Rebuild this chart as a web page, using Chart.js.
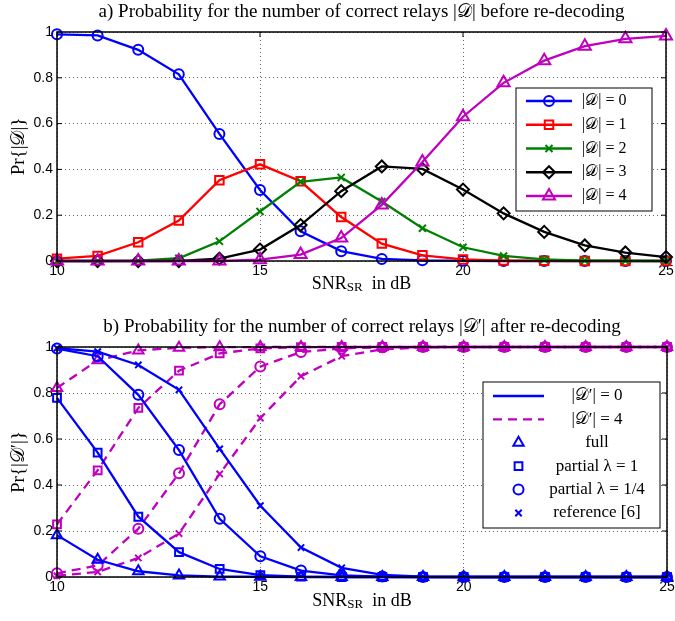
<!DOCTYPE html>
<html>
<head>
<meta charset="utf-8">
<script src="https://cdn.jsdelivr.net/npm/chart.js@4.4.1/dist/chart.umd.min.js"></script>
<style>
  body { margin: 0; background: #fff; }
  #wrap { position: relative; width: 675px; height: 621px; }
  canvas { position: absolute; left: 0; }
</style>
</head>
<body>
<div id="wrap">
  <canvas id="chartA" width="675" height="310" style="top:0"></canvas>
  <canvas id="chartB" width="675" height="311" style="top:310px"></canvas>
</div>
<script>
// SNR_SR in dB
const snr = [10, 11, 12, 13, 14, 15, 16, 17, 18, 19, 20, 21, 22, 23, 24, 25]
const xTicks = [10, 15, 20, 25]
const yTicks = [0, 0.2, 0.4, 0.6, 0.8, 1]

// a) Pr{|D|} before re-decoding
const labelsA = ['|𝒟| = 0', '|𝒟| = 1', '|𝒟| = 2', '|𝒟| = 3', '|𝒟| = 4']
const d0 = [0.99, 0.985, 0.922, 0.815, 0.555, 0.31, 0.13, 0.043, 0.009, 0.003, 0.001, 0, 0, 0, 0, 0]
const d1 = [0.01, 0.022, 0.082, 0.177, 0.353, 0.422, 0.348, 0.192, 0.076, 0.025, 0.007, 0.002, 0.001, 0, 0, 0]
const d2 = [0, 0, 0.001, 0.012, 0.086, 0.216, 0.346, 0.365, 0.26, 0.143, 0.06, 0.022, 0.007, 0.002, 0.001, 0]
const d3 = [0, 0, 0, 0, 0.01, 0.05, 0.157, 0.305, 0.413, 0.402, 0.312, 0.208, 0.127, 0.068, 0.037, 0.017]
const d4 = [0, 0, 0, 0, 0, 0.006, 0.028, 0.1, 0.245, 0.432, 0.63, 0.778, 0.875, 0.938, 0.97, 0.983]

// b) Pr{|D'|} after re-decoding, |D'|=0 and |D'|=4 per scheme
const schemes = ['full', 'partial λ = 1', 'partial λ = 1/4', 'reference [6]']
const lineLabelsB = ['|𝒟′| = 0', '|𝒟′| = 4']
const zeroFull = [0.182, 0.075, 0.025, 0.007, 0.002, 0.001, 0, 0, 0, 0, 0, 0, 0, 0, 0, 0]
const zeroP1 = [0.779, 0.541, 0.262, 0.108, 0.035, 0.008, 0.002, 0, 0, 0, 0, 0, 0, 0, 0, 0]
const zeroP14 = [0.993, 0.96, 0.792, 0.552, 0.253, 0.09, 0.028, 0.007, 0.002, 0, 0, 0, 0, 0, 0, 0]
const zeroRef = [0.995, 0.98, 0.922, 0.814, 0.557, 0.31, 0.128, 0.04, 0.009, 0.002, 0, 0, 0, 0, 0, 0]
const fourFull = [0.822, 0.942, 0.985, 0.997, 0.999, 1, 1, 1, 1, 1, 1, 1, 1, 1, 1, 1]
const fourP1 = [0.229, 0.464, 0.735, 0.897, 0.972, 0.994, 0.999, 1, 1, 1, 1, 1, 1, 1, 1, 1]
const fourP14 = [0.016, 0.05, 0.21, 0.451, 0.751, 0.915, 0.978, 0.994, 0.999, 1, 1, 1, 1, 1, 1, 1]
const fourRef = [0.005, 0.022, 0.083, 0.189, 0.448, 0.691, 0.873, 0.96, 0.99, 0.998, 1, 1, 1, 1, 1, 1]

const SERIF = '"Liberation Serif", "DejaVu Serif", "DejaVu Sans", serif'
const SANS = '"Liberation Sans", Arial, sans-serif'
const BLUE = '#0000ff'
const MAG = '#bf00bf'
const LW = 2.3

function pts(arr) {
    return snr.map((x, i) => ({ x: x, y: arr[i] }))
}

function drawRich(ctx, parts, x, y, align) {
    let w = 0
    parts.forEach(p => { ctx.font = p.f; p.w = ctx.measureText(p.t).width; w += p.w })
    let cx = align === 'center' ? x - w / 2 : x
    ctx.textAlign = 'left'
    ctx.textBaseline = 'middle'
    parts.forEach(p => { ctx.font = p.f; ctx.fillText(p.t, cx, y + (p.dy || 0)); cx += p.w })
}

function scalesCfg(xh) {
    return {
        x: {
            type: 'linear', min: 10, max: 25,
            afterFit: s => { s.height = xh; s.paddingRight = 0 },
            afterBuildTicks: s => { s.ticks = xTicks.map(v => ({ value: v })) },
            ticks: { color: '#000', font: { family: SANS, size: 14 }, padding: 2, maxRotation: 0 },
            grid: { color: 'rgba(0,0,0,0.6)', lineWidth: 1, drawTicks: false },
            border: { display: false, dash: [1, 3] }
        },
        y: {
            min: 0, max: 1,
            afterFit: s => { s.width = 57 },
            afterBuildTicks: s => { s.ticks = yTicks.map(v => ({ value: v })) },
            ticks: {
                color: '#000', font: { family: SANS, size: 14 }, padding: 4,
                callback: v => String(+v.toFixed(1))
            },
            grid: { color: 'rgba(0,0,0,0.6)', lineWidth: 1, drawTicks: false },
            border: { display: false, dash: [1, 3] }
        }
    }
}

// box, inward ticks, titles and legend in matlab style
function decor(opts) {
    return {
        id: 'decor',
        afterDraw(chart) {
            const ctx = chart.ctx
            const a = chart.chartArea
            const sx = chart.scales.x, sy = chart.scales.y
            ctx.save()
            ctx.strokeStyle = '#000'
            ctx.lineWidth = 1.5
            ctx.strokeRect(a.left, a.top, a.right - a.left, a.bottom - a.top)
            ctx.lineWidth = 1
            ctx.beginPath()
            xTicks.forEach(v => {
                const px = sx.getPixelForValue(v)
                ctx.moveTo(px, a.bottom); ctx.lineTo(px, a.bottom - 5)
                ctx.moveTo(px, a.top); ctx.lineTo(px, a.top + 5)
            })
            yTicks.forEach(v => {
                const py = sy.getPixelForValue(v)
                ctx.moveTo(a.left, py); ctx.lineTo(a.left + 5, py)
                ctx.moveTo(a.right, py); ctx.lineTo(a.right - 5, py)
            })
            ctx.stroke()

            ctx.fillStyle = '#000'
            drawRich(ctx, opts.title, (a.left + a.right) / 2, opts.titleY, 'center')
            drawRich(ctx, [
                { t: 'SNR', f: '18px ' + SERIF },
                { t: 'SR', f: '13px ' + SERIF, dy: 4 },
                { t: '  in dB', f: '18px ' + SERIF }
            ], (a.left + a.right) / 2, opts.xLabelY, 'center')
            ctx.save()
            ctx.translate(19, (a.top + a.bottom) / 2)
            ctx.rotate(-Math.PI / 2)
            drawRich(ctx, opts.yLabel, 0, 0, 'center')
            ctx.restore()

            // legend
            const L = opts.legend
            ctx.fillStyle = '#fff'
            ctx.fillRect(L.x, L.y, L.w, L.h)
            ctx.strokeStyle = '#000'
            ctx.lineWidth = 1
            ctx.strokeRect(L.x, L.y, L.w, L.h)
            L.items.forEach((it, i) => {
                const y = L.first + i * L.step
                ctx.save()
                if (it.line) {
                    ctx.strokeStyle = it.color
                    ctx.lineWidth = LW
                    ctx.setLineDash(it.dash || [])
                    ctx.beginPath()
                    ctx.moveTo(L.lx0, y); ctx.lineTo(L.lx1, y)
                    ctx.stroke()
                    ctx.setLineDash([])
                }
                if (it.style) {
                    ctx.strokeStyle = it.color
                    ctx.fillStyle = 'rgba(0,0,0,0)'
                    ctx.lineWidth = 2
                    Chart.helpers.drawPoint(ctx, { pointStyle: it.style, radius: it.r, rotation: 0, borderWidth: 2 }, (L.lx0 + L.lx1) / 2, y)
                }
                ctx.restore()
                ctx.fillStyle = '#000'
                drawRich(ctx, [{ t: it.text, f: L.font }], L.tx, y, L.align)
            })
            ctx.restore()
        }
    }
}

// chart a
const stylesA = [
    { c: BLUE, s: 'circle', r: 5 },
    { c: '#ff0000', s: 'rect', r: 6 },
    { c: '#008000', s: 'crossRot', r: 5 },
    { c: '#000000', s: 'rectRot', r: 6 },
    { c: MAG, s: 'triangle', r: 7 }
]
const seriesA = [d0, d1, d2, d3, d4]
const dsA = seriesA.map((arr, i) => ({
    label: labelsA[i],
    data: pts(arr),
    borderColor: stylesA[i].c,
    backgroundColor: 'rgba(0,0,0,0)',
    borderWidth: LW,
    pointStyle: stylesA[i].s,
    pointRadius: stylesA[i].r,
    pointBorderWidth: 2,
    pointBackgroundColor: 'rgba(0,0,0,0)',
    tension: 0,
    clip: false,
    order: 10 - i
}))

new Chart(document.getElementById('chartA').getContext('2d'), {
    type: 'line',
    data: { datasets: dsA },
    options: {
        responsive: false,
        animation: false,
        layout: { padding: { top: 32, right: 8, left: 0, bottom: 0 } },
        scales: scalesCfg(49),
        plugins: { legend: { display: false }, tooltip: { enabled: false } }
    },
    plugins: [decor({
        title: [{ t: 'a) Probability for the number of correct relays |𝒟| before re-decoding', f: '19px ' + SERIF }],
        titleY: 12,
        xLabelY: 284,
        yLabel: [{ t: 'Pr{|𝒟|}', f: '19px ' + SERIF }],
        legend: {
            x: 516, y: 88, w: 136, h: 123, first: 101, step: 23.75,
            lx0: 526, lx1: 572, tx: 582, align: 'left', font: '16px ' + SERIF,
            items: dsA.map((d, i) => ({ text: d.label, color: stylesA[i].c, line: true, style: stylesA[i].s, r: stylesA[i].r }))
        }
    })]
})

// chart b
const markB = [
    { s: 'triangle', r: 6 },
    { s: 'rect', r: 5.5 },
    { s: 'circle', r: 5 },
    { s: 'crossRot', r: 4.5 }
]
const zeroB = [zeroFull, zeroP1, zeroP14, zeroRef]
const fourB = [fourFull, fourP1, fourP14, fourRef]
const dsB = []
zeroB.forEach((arr, i) => {
    dsB.push({
        label: lineLabelsB[0] + ' ' + schemes[i],
        data: pts(arr),
        borderColor: BLUE,
        borderWidth: LW,
        pointStyle: markB[i].s,
        pointRadius: markB[i].r,
        pointBorderWidth: 2,
        pointBackgroundColor: 'rgba(0,0,0,0)',
        clip: false,
        order: 1
    })
})
fourB.forEach((arr, i) => {
    dsB.push({
        label: lineLabelsB[1] + ' ' + schemes[i],
        data: pts(arr),
        borderColor: MAG,
        borderWidth: LW,
        borderDash: [9, 6],
        pointStyle: markB[i].s,
        pointRadius: markB[i].r,
        pointBorderWidth: 2,
        pointBackgroundColor: 'rgba(0,0,0,0)',
        clip: false,
        order: 2
    })
})

new Chart(document.getElementById('chartB').getContext('2d'), {
    type: 'line',
    data: { datasets: dsB },
    options: {
        responsive: false,
        animation: false,
        layout: { padding: { top: 37, right: 8, left: 0, bottom: 0 } },
        scales: scalesCfg(44),
        plugins: { legend: { display: false }, tooltip: { enabled: false } }
    },
    plugins: [decor({
        title: [{ t: 'b) Probability for the number of correct relays |𝒟′| after re-decoding', f: '19px ' + SERIF }],
        titleY: 17,
        xLabelY: 291,
        yLabel: [{ t: 'Pr{|𝒟′|}', f: '19px ' + SERIF }],
        legend: {
            x: 483, y: 382 - 310, w: 177, h: 146, first: 396 - 310, step: 23.4,
            lx0: 493, lx1: 544, tx: 597, align: 'center', font: '17px ' + SERIF,
            items: [
                { text: lineLabelsB[0], color: BLUE, line: true },
                { text: lineLabelsB[1], color: MAG, line: true, dash: [9, 6] }
            ].concat(schemes.map((s, i) => ({ text: s, color: BLUE, style: markB[i].s, r: markB[i].r })))
        }
    })]
})
</script>
</body>
</html>
